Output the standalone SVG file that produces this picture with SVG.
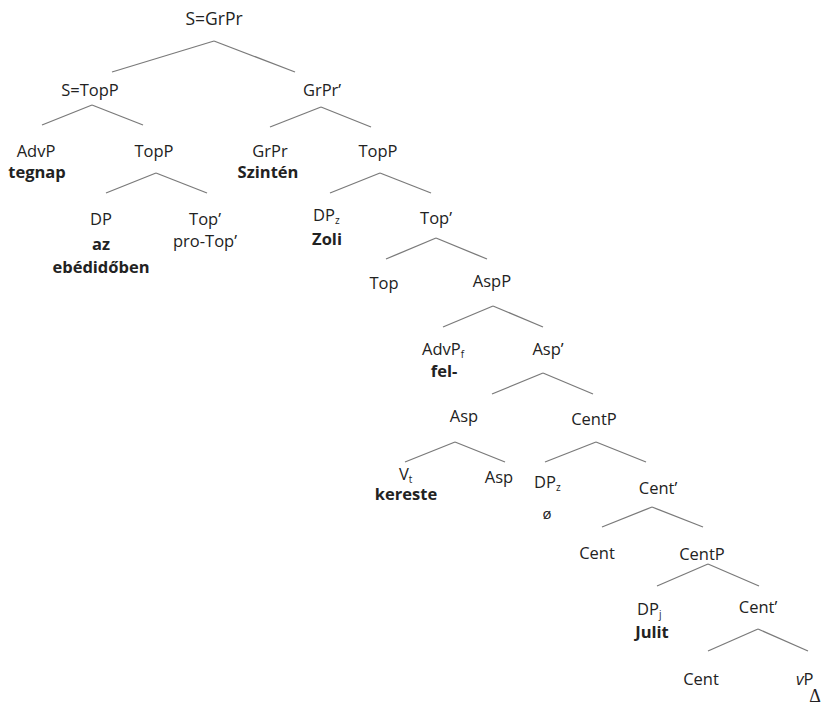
<svg xmlns="http://www.w3.org/2000/svg" width="823" height="709" viewBox="0 0 823 709">
<style>
text{font-family:"Open Sans","Liberation Sans",sans-serif;font-size:16.5px;fill:#222222;text-anchor:middle}
text.l{text-anchor:start}
.b{font-weight:bold}
.sub{font-size:10px}
.serif{font-family:"Liberation Serif","DejaVu Serif",serif;font-size:18px}
#connectors line{stroke:#7a7a7a;stroke-width:1.3;fill:none}
</style>
<rect width="823" height="709" fill="#ffffff"/>
<g id="connectors">
<line x1="214" y1="41" x2="112" y2="72"/><line x1="214" y1="41" x2="295" y2="72"/>
<line x1="92" y1="105" x2="42" y2="125"/><line x1="92" y1="105" x2="143" y2="125"/>
<line x1="321" y1="107" x2="270" y2="127"/><line x1="321" y1="107" x2="371" y2="127"/>
<line x1="156" y1="173" x2="106" y2="193"/><line x1="156" y1="173" x2="207" y2="193"/>
<line x1="380" y1="173" x2="330" y2="193"/><line x1="380" y1="173" x2="431" y2="193"/>
<line x1="436" y1="238" x2="386" y2="259"/><line x1="436" y1="238" x2="487" y2="259"/>
<line x1="493" y1="306" x2="443" y2="327"/><line x1="493" y1="306" x2="543" y2="327"/>
<line x1="543" y1="373" x2="492" y2="394"/><line x1="543" y1="373" x2="593" y2="394"/>
<line x1="455" y1="442" x2="405" y2="462"/><line x1="455" y1="442" x2="505" y2="462"/>
<line x1="596" y1="442" x2="545" y2="462"/><line x1="596" y1="442" x2="646" y2="462"/>
<line x1="652" y1="507" x2="602" y2="527"/><line x1="652" y1="507" x2="703" y2="527"/>
<line x1="708" y1="564" x2="657" y2="586"/><line x1="708" y1="564" x2="759" y2="586"/>
<line x1="758" y1="629" x2="708" y2="651"/><line x1="758" y1="629" x2="808" y2="651"/>
</g>
<g id="n-S-GrPr"><text x="214" y="25" style="font-size:17.5px">S=GrPr</text></g>
<g id="n-S-TopP"><text x="90" y="96">S=TopP</text></g>
<g id="n-GrPr-bar"><text x="322" y="96">GrPr’</text></g>
<g id="n-AdvP"><text x="36" y="157">AdvP</text><text x="37" y="178" class="b">tegnap</text></g>
<g id="n-TopP1"><text x="154" y="157">TopP</text></g>
<g id="n-GrPr"><text x="270" y="157">GrPr</text><text x="268" y="178" class="b">Szintén</text></g>
<g id="n-TopP2"><text x="378" y="157">TopP</text></g>
<g id="n-DP"><text x="101" y="225">DP</text><text x="101" y="250" class="b">az</text><text x="101" y="273" class="b">ebédidőben</text></g>
<g id="n-Top-bar1"><text x="205" y="225">Top’</text><text x="205" y="247">pro-Top’</text></g>
<g id="n-DPz1"><text x="313" y="221" class="l">DP<tspan class="sub" dy="3">z</tspan></text><text x="327" y="245" class="b">Zoli</text></g>
<g id="n-Top-bar2"><text x="436" y="224">Top’</text></g>
<g id="n-Top"><text x="384" y="289">Top</text></g>
<g id="n-AspP"><text x="492" y="287">AspP</text></g>
<g id="n-AdvPf"><text x="422" y="355" class="l">AdvP<tspan class="sub" dy="3">f</tspan></text><text x="444" y="377" class="b">fel-</text></g>
<g id="n-Asp-bar"><text x="548" y="355">Asp’</text></g>
<g id="n-Asp1"><text x="464" y="422">Asp</text></g>
<g id="n-CentP1"><text x="594" y="425">CentP</text></g>
<g id="n-Vt"><text x="399" y="480" class="l">V<tspan class="sub" dy="3">t</tspan></text><text x="406" y="500" class="b">kereste</text></g>
<g id="n-Asp2"><text x="499" y="483">Asp</text></g>
<g id="n-DPz2"><text x="534" y="488" class="l">DP<tspan class="sub" dy="3">z</tspan></text><text x="547" y="519" style="font-size:15px">ø</text></g>
<g id="n-Cent-bar1"><text x="658" y="494">Cent’</text></g>
<g id="n-Cent1"><text x="597" y="559">Cent</text></g>
<g id="n-CentP2"><text x="702" y="560">CentP</text></g>
<g id="n-DPj"><text x="637" y="615" class="l">DP<tspan class="sub" dy="3">j</tspan></text><text x="652" y="638" class="b">Julit</text></g>
<g id="n-Cent-bar2"><text x="758" y="613">Cent’</text></g>
<g id="n-Cent2"><text x="701" y="685">Cent</text></g>
<g id="n-vP"><text x="796" y="685" class="l"><tspan font-style="italic">v</tspan>P</text><text x="815" y="702" class="serif">Δ</text></g>
</svg>
